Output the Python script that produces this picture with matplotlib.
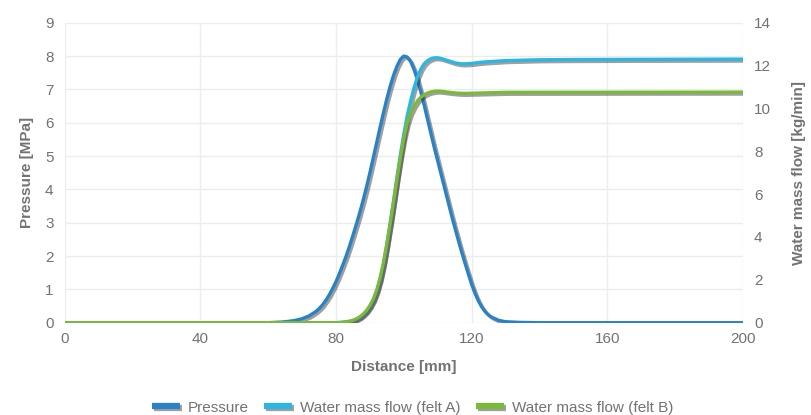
import matplotlib
matplotlib.use("Agg")
import matplotlib.pyplot as plt
import matplotlib.patheffects as pe

# Pressure along the nip
pressure_x = [0, 40, 60, 62, 64, 66, 68, 70, 72, 74, 75, 76, 77, 78, 79, 80, 81, 82, 83, 84, 85,
              86, 87, 88, 89, 90, 91, 92, 93, 94, 95, 96, 97, 98, 99, 100, 101, 102, 103, 104,
              105, 106, 107, 108, 109, 110, 111, 112, 113, 114, 115, 116, 117, 118, 119, 120,
              121, 122, 123, 124, 125, 126, 128, 130, 134, 140, 160, 200]
pressure_mpa = [0, 0, 0, 0.01, 0.02, 0.04, 0.07, 0.12, 0.2, 0.33, 0.42, 0.53, 0.67, 0.83, 1.02,
                1.23, 1.47, 1.73, 2.0, 2.3, 2.62, 2.95, 3.3, 3.67, 4.07, 4.5, 4.95, 5.4, 5.86,
                6.3, 6.72, 7.1, 7.43, 7.7, 7.9, 8.0, 7.97, 7.84, 7.6, 7.3, 6.93, 6.53, 6.1, 5.67,
                5.25, 4.85, 4.45, 4.05, 3.65, 3.25, 2.87, 2.5, 2.14, 1.8, 1.47, 1.15, 0.88, 0.65,
                0.47, 0.33, 0.23, 0.16, 0.07, 0.03, 0.01, 0, 0, 0]

# Water mass flow, felt A
flow_a_x = [0, 40, 80, 82, 84, 85, 86, 87, 88, 89, 90, 91, 92, 93, 94, 95, 96, 97, 98, 99, 100,
            101, 102, 103, 104, 105, 106, 107, 108, 109, 110, 111, 112, 113, 114, 115, 116, 117,
            118, 120, 122, 124, 127, 130, 135, 140, 150, 170, 200]
flow_a = [0, 0, 0, 0.02, 0.06, 0.1, 0.16, 0.24, 0.36, 0.52, 0.74, 1.04, 1.44, 2.0, 2.75, 3.65,
          4.65, 5.7, 6.8, 7.85, 8.8, 9.65, 10.35, 10.95, 11.45, 11.83, 12.08, 12.23, 12.32,
          12.36, 12.36, 12.33, 12.28, 12.23, 12.18, 12.13, 12.1, 12.08, 12.08, 12.1, 12.14,
          12.17, 12.2, 12.23, 12.25, 12.27, 12.28, 12.29, 12.3]

# Water mass flow, felt B
flow_b_x = [0, 40, 80, 82, 84, 85, 86, 87, 88, 89, 90, 91, 92, 93, 94, 95, 96, 97, 98, 99, 100,
            101, 102, 103, 104, 105, 106, 107, 108, 109, 110, 111, 112, 114, 116, 118, 120, 125,
            130, 200]
flow_b = [0, 0, 0, 0.02, 0.07, 0.11, 0.18, 0.27, 0.4, 0.57, 0.8, 1.1, 1.52, 2.08, 2.8, 3.68,
          4.65, 5.68, 6.72, 7.72, 8.6, 9.3, 9.78, 10.1, 10.35, 10.52, 10.64, 10.72, 10.77, 10.8,
          10.81, 10.8, 10.78, 10.74, 10.71, 10.7, 10.71, 10.73, 10.75, 10.76]

c_pressure = "#2a82c6"
c_felt_a = "#2bb7e2"
c_felt_b = "#7bb93b"
text_grey = "#727272"

plt.rcParams['font.family'] = ['Liberation Sans', 'DejaVu Sans']

fig = plt.figure(figsize=(8.12, 4.15), dpi=100)
ax = fig.add_axes([0.0796, 0.2224, 0.8354, 0.7229])
ax2 = ax.twinx()

shadow = [pe.SimpleLineShadow(offset=(1.4, -1.4), shadow_color="#2a2a2a", alpha=0.45),
          pe.Normal()]

l1, = ax.plot(pressure_x, pressure_mpa, color=c_pressure, lw=2.4, label="Pressure",
              path_effects=shadow, solid_capstyle="butt", solid_joinstyle="round", zorder=3)
l2, = ax2.plot(flow_a_x, flow_a, color=c_felt_a, lw=2.4, label="Water mass flow (felt A)",
               path_effects=shadow, solid_capstyle="butt", solid_joinstyle="round", zorder=3)
l3, = ax2.plot(flow_b_x, flow_b, color=c_felt_b, lw=2.4, label="Water mass flow (felt B)",
               path_effects=shadow, solid_capstyle="butt", solid_joinstyle="round", zorder=4)

ax.set_xlim(0, 200)
ax.set_ylim(0, 9)
ax2.set_ylim(0, 14)
ax.set_xticks(range(0, 201, 40))
ax.set_yticks(range(0, 10))
ax2.set_yticks(range(0, 15, 2))

ax.grid(True, color="#ececec", lw=1)
ax.set_axisbelow(True)
for a in (ax, ax2):
    for s in a.spines.values():
        s.set_visible(False)
    a.tick_params(length=0, labelsize=11, labelcolor=text_grey)
ax.tick_params(axis="y", pad=8)
ax2.tick_params(axis="y", pad=8)
ax.tick_params(axis="x", pad=7)

ax.set_xlabel("Distance [mm]", fontsize=11, fontweight="bold", color=text_grey, labelpad=10)
ax.set_ylabel("Pressure [MPa]", fontsize=11, fontweight="bold", color=text_grey, labelpad=8)
ax2.set_ylabel("Water mass flow [kg/min]", fontsize=11, fontweight="bold", color=text_grey,
               labelpad=15)

leg = fig.legend(handles=[l1, l2, l3], loc="center", bbox_to_anchor=(0.508, 0.018),
                 ncol=3, frameon=False, fontsize=11, handlelength=1.85, columnspacing=1.0,
                 handletextpad=0.5)
for h in leg.get_lines():
    h.set_linewidth(4.5)
for t in leg.get_texts():
    t.set_color(text_grey)

plt.savefig("out.png", dpi=100)
